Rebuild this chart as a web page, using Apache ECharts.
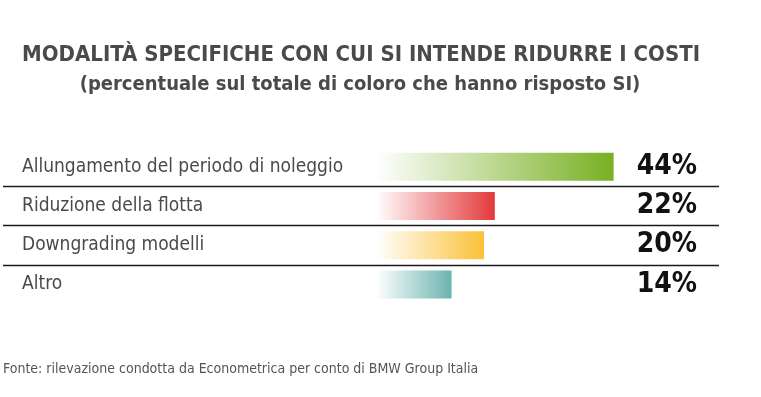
<!DOCTYPE html>
<html>
<head>
<meta charset="utf-8">
<script src="https://cdn.jsdelivr.net/npm/echarts@6/dist/echarts.min.js"></script>
<style>
  html, body { margin: 0; padding: 0; background: #fff; }
  #main { width: 761px; height: 397px; }
</style>
</head>
<body>
<div id="main"></div>
<script>
// dati
var categories = ['Allungamento del periodo di noleggio', 'Riduzione della flotta', 'Downgrading modelli', 'Altro'];
var values = [44, 22, 20, 14];
var pctLabels = ['44%', '22%', '20%', '14%'];
var barColors = ['#78b022', '#e3383a', '#fbc138', '#6bb4af'];

var condensed = '"DejaVu Sans Condensed", sans-serif';

var chart = echarts.init(document.getElementById('main'));

var barData = values.map(function (v, i) {
  return {
    value: v,
    itemStyle: {
      color: new echarts.graphic.LinearGradient(0, 0, 1, 0, [
        { offset: 0, color: 'rgba(255,255,255,1)' },
        { offset: 1, color: barColors[i] }
      ])
    }
  };
});

chart.setOption({
  animation: false,
  backgroundColor: '#fff',
  title: [
    {
      text: 'MODALITÀ SPECIFICHE CON CUI SI INTENDE RIDURRE I COSTI',
      left: 361, top: 44, padding: 0, textAlign: 'center',
      textStyle: { fontFamily: condensed, fontWeight: 'bold', fontSize: 22, color: '#4a4a4c' }
    },
    {
      text: '(percentuale sul totale di coloro che hanno risposto SI)',
      left: 360, top: 75, padding: 0, textAlign: 'center',
      textStyle: { fontFamily: condensed, fontWeight: 'bold', fontSize: 20, color: '#4a4a4c' }
    },
    {
      text: 'Fonte: rilevazione condotta da Econometrica per conto di BMW Group Italia',
      left: 3, top: 362, padding: 0,
      textStyle: { fontFamily: condensed, fontWeight: 'normal', fontSize: 14, color: '#555' }
    }
  ],
  grid: [
    { left: 376, right: 115, top: 147, bottom: 93 },   // barre
    { left: 3, right: 42, top: 147, bottom: 93 }       // linee di separazione
  ],
  xAxis: [
    { gridIndex: 0, type: 'value', min: 0, max: 50, show: false },
    { gridIndex: 1, type: 'value', min: 0, max: 1, show: false }
  ],
  yAxis: [
    {
      gridIndex: 0, type: 'category', data: categories, inverse: true,
      axisLine: { show: false }, axisTick: { show: false },
      axisLabel: {
        margin: 354, align: 'left', overflow: 'none', width: 400,
        fontFamily: condensed, fontSize: 19, color: '#4a4a4a'
      }
    },
    {
      gridIndex: 0, type: 'category', data: pctLabels, inverse: true, position: 'right',
      axisLine: { show: false }, axisTick: { show: false },
      axisLabel: {
        margin: 51, align: 'right',
        fontFamily: condensed, fontWeight: 'bold', fontSize: 28, color: '#111'
      }
    },
    {
      gridIndex: 1, type: 'category', data: categories, inverse: true,
      axisLine: { show: false }, axisTick: { show: false }, axisLabel: { show: false },
      splitLine: { show: true, showMinLine: false, showMaxLine: false, lineStyle: { color: '#1a1a1a', width: 1.3 } }
    }
  ],
  series: [
    {
      type: 'bar',
      xAxisIndex: 0,
      yAxisIndex: 0,
      barWidth: 28,
      data: barData
    }
  ]
});
</script>
</body>
</html>
